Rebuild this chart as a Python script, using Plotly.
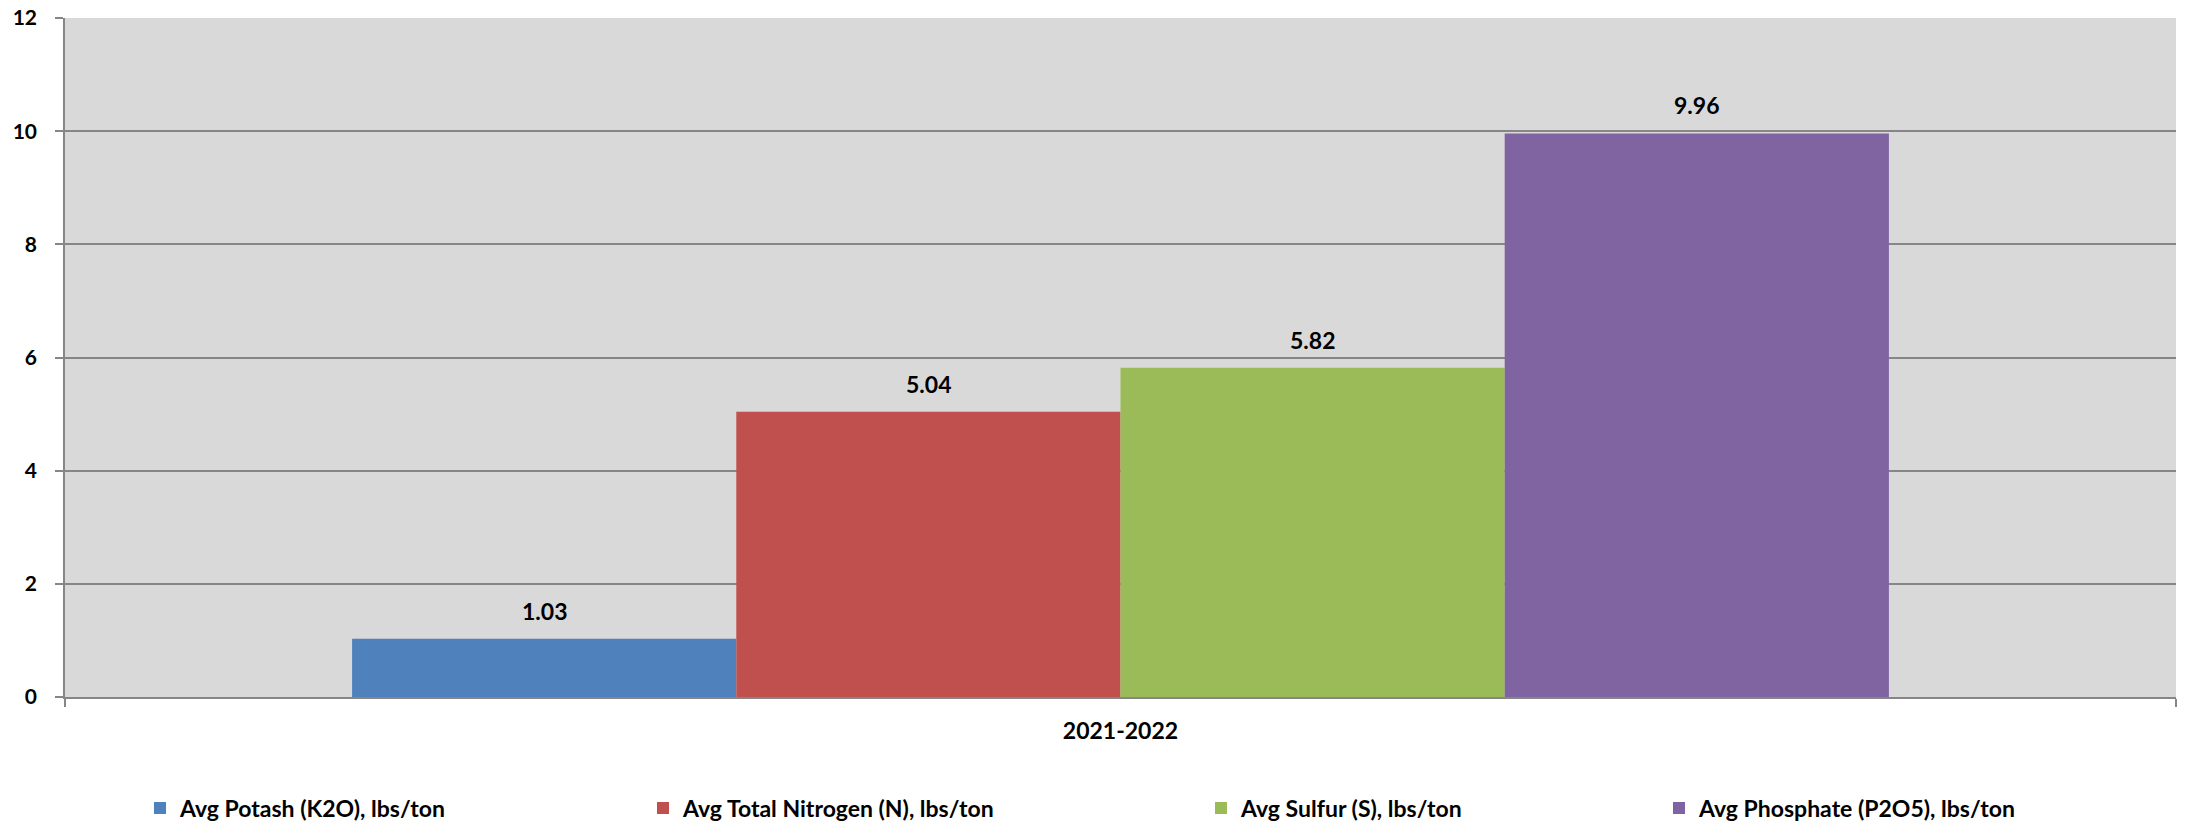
import plotly.graph_objects as go

# chart data
season = ["2021-2022"]
series_names = [
    "Avg Potash (K2O), lbs/ton",
    "Avg Total Nitrogen (N), lbs/ton",
    "Avg Sulfur (S), lbs/ton",
    "Avg Phosphate (P2O5), lbs/ton",
]
potash = [1.03]
nitrogen = [5.04]
sulfur = [5.82]
phosphate = [9.96]

colors = ["#4F81BD", "#C0504D", "#9BBB59", "#8064A2"]
legend_ids = ["legend", "legend2", "legend3", "legend4"]

# the page body adds an 8px offset, so the figure is sized to fit the window
W, H = 2178, 814
legend_x = [132, 635, 1193, 1651]  # px from the figure's left edge

BARGAP = 0.272
GRID = "#868686"

fig = go.Figure()
values = [potash, nitrogen, sulfur, phosphate]
for name, vals, col, lg in zip(series_names, values, colors, legend_ids):
    fig.add_trace(go.Bar(
        x=season, y=vals, name=name,
        marker=dict(color=col, line=dict(width=0)),
        legend=lg,
    ))

# value labels sitting above each bar
n = len(values)
group_w = 1 - BARGAP
for i, vals in enumerate(values):
    for j, v in enumerate(vals):
        xc = j - group_w / 2 + (i + 0.5) * group_w / n
        fig.add_annotation(
            x=xc, y=v, xref="x", yref="y",
            text=f"{v:.2f}", showarrow=False,
            yanchor="bottom", yshift=12,
            font=dict(size=23, family="Lato", weight="bold", color="black"),
        )

layout_legends = {}
for lg, lx in zip(legend_ids, legend_x):
    layout_legends[lg] = dict(
        xref="container", yref="container",
        x=lx / W, y=(H - 800) / H,
        xanchor="left", yanchor="middle",
        orientation="h",
        bgcolor="rgba(0,0,0,0)",
        font=dict(size=23, family="Lato", weight="bold", color="black"),
    )

fig.update_layout(
    width=W, height=H,
    barmode="group", bargap=BARGAP, bargroupgap=0,
    plot_bgcolor="#D9D9D9", paper_bgcolor="white",
    margin=dict(l=57, r=10, t=10, b=125, autoexpand=False),
    font=dict(family="Lato", weight="bold", color="black"),
    showlegend=True,
    **layout_legends,
)

fig.update_yaxes(
    range=[0, 12], dtick=2, tick0=0,
    showgrid=True, gridcolor=GRID, gridwidth=2,
    zeroline=False,
    showline=True, linecolor=GRID, linewidth=1.5,
    ticks="outside", ticklen=8, tickcolor=GRID, tickwidth=1.5,
    ticklabelstandoff=14, ticklabeloverflow="allow",
    tickfont=dict(size=21, family="Lato", weight="bold", color="black"),
)
fig.update_xaxes(
    type="category",
    showline=True, linecolor=GRID, linewidth=2,
    ticks="outside", tickson="boundaries", ticklen=8, tickcolor=GRID, tickwidth=1.5,
    ticklabelstandoff=12,
    tickfont=dict(size=23, family="Lato", weight="bold", color="black"),
)

fig.write_html("out.html")
